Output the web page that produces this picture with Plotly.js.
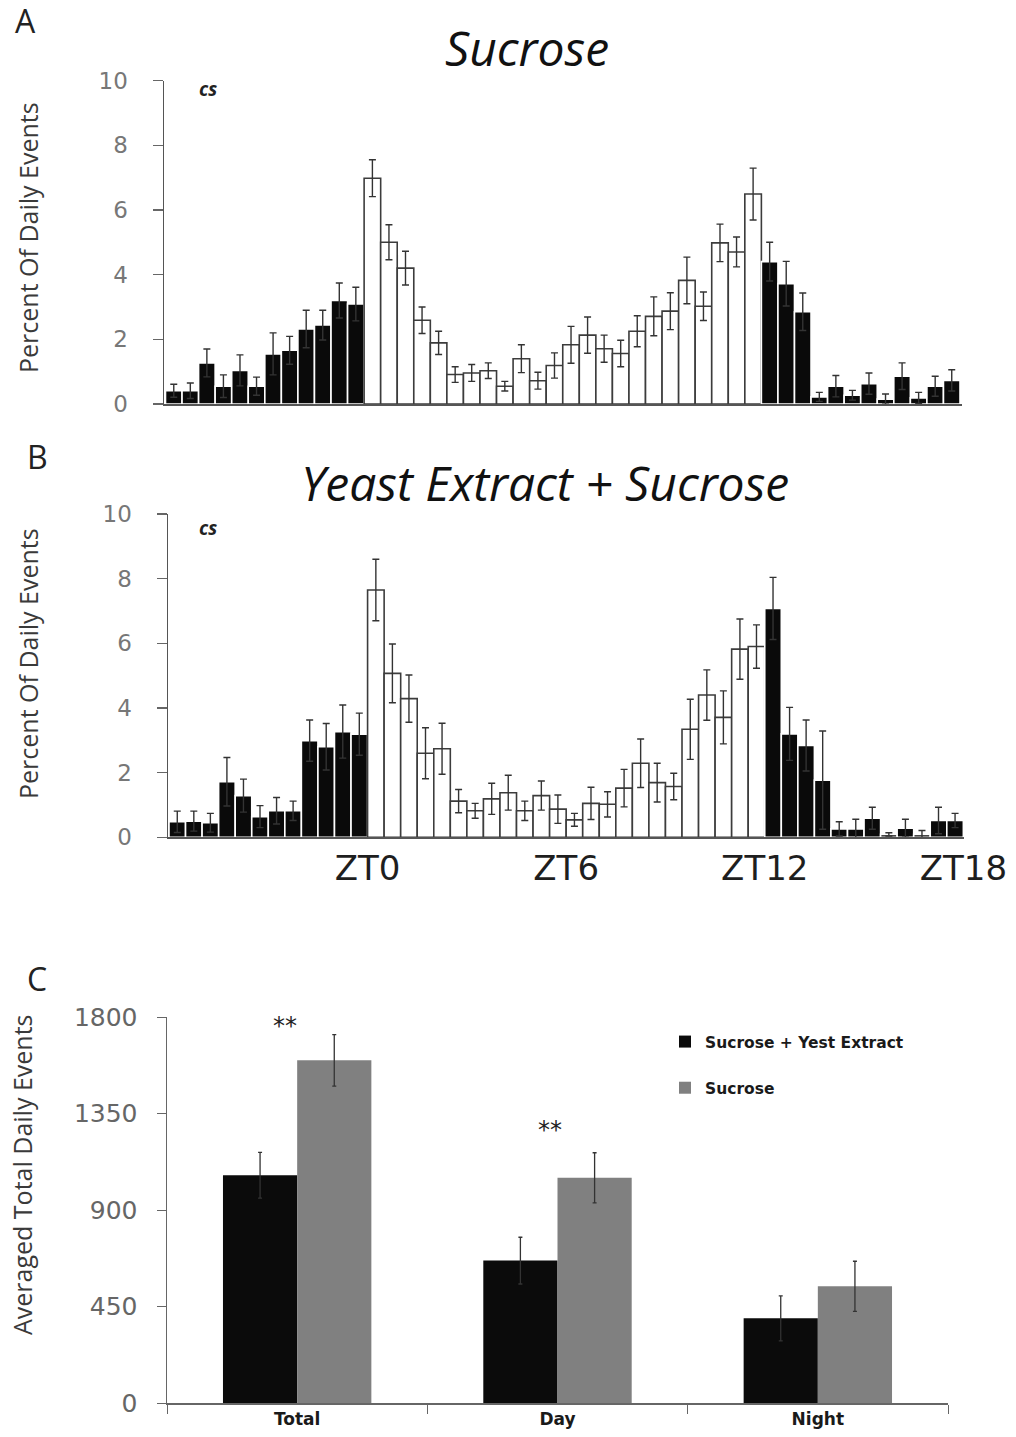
<!DOCTYPE html>
<html>
<head>
<meta charset="utf-8">
<script src="https://cdn.plot.ly/plotly-3.0.1.min.js"></script>
<style>
  html, body { margin: 0; padding: 0; background: #ffffff; }
  #chart { width: 1016px; height: 1437px; }
</style>
</head>
<body>
<div id="chart"></div>
<script>
// Half-hour bins from ZT18 of the previous day (ZT -6) to ZT18; values are bin start times
const binHours = 0.5;
const binStart = Array.from({ length: 48 }, (_, i) => -6 + i * binHours);

// Percent of daily feeding events per bin, flies on sucrose
const sucroseMean = [0.41, 0.41, 1.27, 0.55, 1.04, 0.55, 1.55, 1.66, 2.32, 2.44, 3.20, 3.09,
                     6.98, 5.00, 4.20, 2.59, 1.89, 0.91, 0.96, 1.03, 0.55, 1.40, 0.72, 1.19,
                     1.83, 2.13, 1.71, 1.56, 2.25, 2.71, 2.87, 3.82, 3.02, 4.98, 4.70, 6.49,
                     4.40, 3.72, 2.85, 0.22, 0.55, 0.27, 0.63, 0.15, 0.86, 0.19, 0.55, 0.73];
const sucroseSem  = [0.20, 0.24, 0.43, 0.35, 0.48, 0.28, 0.65, 0.43, 0.58, 0.46, 0.54, 0.52,
                     0.57, 0.54, 0.52, 0.41, 0.36, 0.24, 0.26, 0.24, 0.15, 0.43, 0.26, 0.39,
                     0.57, 0.56, 0.42, 0.41, 0.48, 0.60, 0.57, 0.72, 0.44, 0.58, 0.46, 0.80,
                     0.60, 0.69, 0.58, 0.14, 0.33, 0.15, 0.33, 0.16, 0.41, 0.17, 0.31, 0.33];

// Percent of daily feeding events per bin, flies on yeast extract + sucrose
const yeastMean = [0.48, 0.50, 0.45, 1.72, 1.29, 0.64, 0.82, 0.82, 2.99, 2.80, 3.27, 3.19,
                   7.65, 5.07, 4.29, 2.60, 2.74, 1.12, 0.82, 1.19, 1.38, 0.82, 1.29, 0.87,
                   0.54, 1.05, 1.02, 1.52, 2.29, 1.69, 1.57, 3.34, 4.40, 3.71, 5.82, 5.90,
                   7.08, 3.20, 2.84, 1.77, 0.26, 0.26, 0.59, 0.09, 0.28, 0.09, 0.52, 0.52];
const yeastSem  = [0.33, 0.31, 0.29, 0.75, 0.51, 0.34, 0.41, 0.30, 0.64, 0.72, 0.82, 0.65,
                   0.95, 0.91, 0.73, 0.79, 0.79, 0.36, 0.23, 0.48, 0.54, 0.30, 0.45, 0.44,
                   0.20, 0.50, 0.39, 0.58, 0.75, 0.60, 0.41, 0.93, 0.78, 0.82, 0.93, 0.67,
                   0.96, 0.82, 0.79, 1.52, 0.22, 0.30, 0.34, 0.05, 0.28, 0.12, 0.41, 0.22];

// Zeitgeber time tick marks
const ztTickVals = [0, 6, 12, 18];
const ztTickText = ['ZT0', 'ZT6', 'ZT12', 'ZT18'];

// Averaged total daily events
const periods = ['Total', 'Day', 'Night'];
const yeastTotals = [1062, 664, 395];
const yeastTotalsErr = [107, 109, 105];
const sucroseTotals = [1598, 1050, 544];
const sucroseTotalsErr = [120, 117, 117];

const W = 1016, H = 1437;
const px = v => v / W;
const py = v => 1 - v / H;

// Lights on from ZT0 to ZT12: white bars, otherwise black bars
const isLight = binStart.map(t => t >= 0 && t < 12);
const binFill = isLight.map(l => l ? '#ffffff' : '#0a0a0a');
const binEdge = isLight.map(l => l ? '#3c3c3c' : '#ffffff');
const binCenter = binStart.map(t => t + binHours / 2);

function profileTrace(means, sems, xa, ya) {
  return {
    type: 'bar',
    x: binCenter,
    y: means,
    width: binHours,
    xaxis: xa,
    yaxis: ya,
    showlegend: false,
    hoverinfo: 'skip',
    marker: { color: binFill, line: { color: binEdge, width: 1.6 } },
    error_y: { type: 'data', array: sems, visible: true, color: '#333333', thickness: 1.4, width: 3.5 }
  };
}

const traces = [
  profileTrace(sucroseMean, sucroseSem, 'x', 'y'),
  profileTrace(yeastMean, yeastSem, 'x2', 'y2'),
  {
    type: 'bar', name: 'Sucrose + Yest Extract', legendgroup: 'g1',
    x: periods, y: yeastTotals, xaxis: 'x3', yaxis: 'y3',
    marker: { color: '#0b0b0b' },
    error_y: { type: 'data', array: yeastTotalsErr, visible: true, color: '#333333', thickness: 1.3, width: 2 }
  },
  {
    type: 'bar', name: 'Sucrose', legendgroup: 'g2',
    x: periods, y: sucroseTotals, xaxis: 'x3', yaxis: 'y3',
    marker: { color: '#808080' },
    error_y: { type: 'data', array: sucroseTotalsErr, visible: true, color: '#333333', thickness: 1.3, width: 2 }
  }
];

const tickFont = { family: 'DejaVu Sans', size: 23, color: '#777777' };

const profileY = dom => ({
  domain: dom, range: [0, 10], tickvals: [0, 2, 4, 6, 8, 10],
  showline: true, linecolor: '#555555', linewidth: 1.5,
  ticks: 'outside', ticklen: 10, tickcolor: '#666666', tickwidth: 1.2,
  ticklabelstandoff: 20, showgrid: false, zeroline: false,
  tickfont: tickFont, fixedrange: true
});

// Helper for centred text placed in pixel terms on the page
function label(text, x, y, font, extra) {
  return Object.assign({
    text: text, x: px(x), y: py(y), xref: 'paper', yref: 'paper',
    xanchor: 'center', yanchor: 'middle', showarrow: false, font: font
  }, extra || {});
}

const layout = {
  width: W, height: H,
  margin: { l: 0, r: 0, t: 0, b: 0 },
  paper_bgcolor: '#ffffff', plot_bgcolor: '#ffffff',
  font: { family: 'Open Sans', color: '#222222' },
  barmode: 'group', bargap: 0.43, bargroupgap: 0,

  xaxis: {
    domain: [px(164), px(962)], range: [-6.045, 18.06], anchor: 'y',
    showline: true, linecolor: '#555555', linewidth: 1.5,
    showticklabels: false, ticks: '', showgrid: false, zeroline: false
  },
  yaxis: Object.assign(profileY([py(404), py(80.5)]), { anchor: 'x' }),

  xaxis2: {
    domain: [px(168), px(964)], range: [-6.03, 18.02], anchor: 'y2',
    showline: true, linecolor: '#555555', linewidth: 1.5,
    tickvals: ztTickVals, ticktext: ztTickText, ticks: '',
    tickfont: { family: 'DejaVu Sans', size: 34, color: '#1e1e1e' },
    showgrid: false, zeroline: false
  },
  yaxis2: Object.assign(profileY([py(837.3), py(514)]), { anchor: 'x2' }),

  xaxis3: {
    domain: [px(167), px(948)], anchor: 'y3',
    showline: true, linecolor: '#666666', linewidth: 1.5,
    ticks: 'outside', tickson: 'boundaries', ticklen: 9, tickcolor: '#666666',
    tickfont: { family: 'DejaVu Sans', size: 17, color: '#1a1a1a', weight: 'bold' },
    showgrid: false, zeroline: false
  },
  yaxis3: {
    domain: [py(1403), py(1017)], range: [0, 1800], anchor: 'x3',
    tickvals: [0, 450, 900, 1350, 1800],
    showline: true, linecolor: '#666666', linewidth: 1.5,
    ticks: 'outside', ticklen: 9, tickcolor: '#666666',
    ticklabelstandoff: 14, showgrid: false, zeroline: false,
    tickfont: { family: 'DejaVu Sans', size: 25, color: '#666666' }
  },

  showlegend: true,
  legend: {
    x: px(665), y: py(1025), xanchor: 'left', yanchor: 'top',
    bgcolor: 'rgba(0,0,0,0)', tracegroupgap: 23, traceorder: 'grouped',
    font: { family: 'DejaVu Sans', size: 15.5, color: '#1a1a1a', weight: 'bold' },
    itemwidth: 30
  },

  annotations: [
    label('A', 25, 21, { size: 32, color: '#222222' }),
    label('B', 37, 456, { size: 32, color: '#222222' }),
    label('C', 37, 978, { size: 32, color: '#222222' }),

    label('<i>Sucrose</i>', 527, 48, { size: 48, color: '#111111' }),
    label('<i>Yeast Extract + Sucrose</i>', 545, 483, { size: 48, color: '#111111' }),

    label('<b><i>cs</i></b>', 208, 89, { size: 19, color: '#222222' }),
    label('<b><i>cs</i></b>', 208, 528, { size: 19, color: '#222222' }),

    label('Percent Of Daily Events', 28, 238, { size: 25, color: '#3a3a3a' }, { textangle: -90 }),
    label('Percent Of Daily Events', 28, 664, { size: 25, color: '#3a3a3a' }, { textangle: -90 }),
    label('Averaged Total Daily Events', 22, 1175, { size: 25, color: '#3a3a3a' }, { textangle: -90 }),

    { text: '**', x: 'Total', y: 1760, xref: 'x3', yref: 'y3', xshift: -12, xanchor: 'center', yanchor: 'middle',
      showarrow: false, font: { family: 'DejaVu Sans', size: 24, color: '#222222' } },
    { text: '**', x: 'Day', y: 1275, xref: 'x3', yref: 'y3', xshift: -8, xanchor: 'center', yanchor: 'middle',
      showarrow: false, font: { family: 'DejaVu Sans', size: 24, color: '#222222' } }
  ]
};

Plotly.newPlot('chart', traces, layout, { staticPlot: true, displayModeBar: false });
</script>
</body>
</html>
